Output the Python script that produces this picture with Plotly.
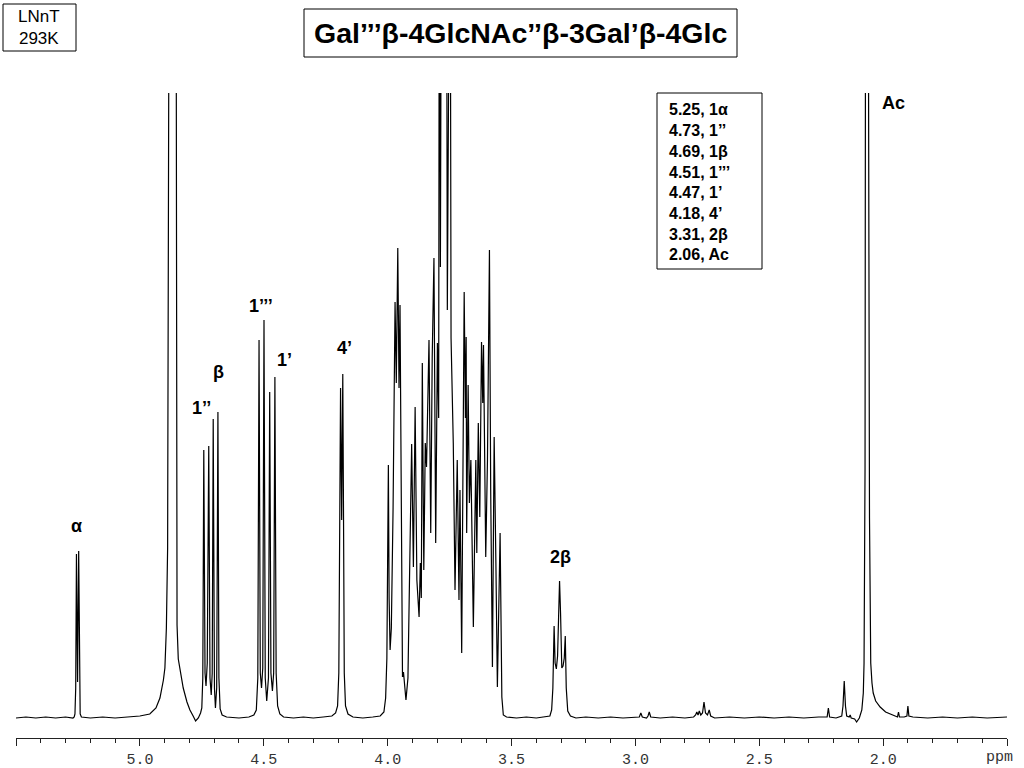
import plotly.graph_objects as go

# 1H spectrum of LNnT, 293K (ppm, height above baseline)
base_left = [(5.50, 0), (5.46, 1), (5.42, 0), (5.38, 1), (5.34, 0), (5.30, 1), (5.27, 0)]
alpha_pk = [(5.265, 1), (5.262, 4), (5.259, 30), (5.256, 164), (5.2515, 36),
            (5.247, 167), (5.244, 30), (5.241, 4), (5.236, 1)]
hdo_pk = [(5.20, 0), (5.15, 1), (5.10, 0), (5.05, 1), (5.00, 2), (4.96, 4), (4.935, 10),
          (4.919, 20), (4.905, 38), (4.899, 50), (4.893, 90), (4.888, 170), (4.884, 500),
          (4.880, 1000), (4.870, 1400), (4.860, 1400), (4.855, 1000), (4.852, 300),
          (4.850, 93), (4.845, 59), (4.835, 42), (4.825, 30), (4.810, 16), (4.798, 8),
          (4.785, 2), (4.775, -3), (4.764, 0), (4.755, 5)]
h1pp_beta = [(4.750, 10), (4.746, 40), (4.742, 268), (4.737, 45), (4.733, 32), (4.728, 55),
             (4.722, 272), (4.717, 40), (4.712, 23), (4.708, 45), (4.704, 299), (4.699, 30),
             (4.695, 10), (4.690, 30), (4.685, 306), (4.681, 40), (4.676, 9), (4.668, 3),
             (4.65, 1), (4.60, 0), (4.56, 1)]
h1ppp_1p = [(4.540, 3), (4.530, 8), (4.524, 40), (4.519, 378), (4.514, 45), (4.509, 30),
            (4.504, 50), (4.499, 398), (4.494, 40), (4.488, 17), (4.481, 40), (4.476, 326),
            (4.471, 45), (4.465, 27), (4.460, 45), (4.455, 341), (4.450, 45), (4.444, 12),
            (4.435, 4), (4.42, 1), (4.38, 0), (4.34, 1), (4.30, 0), (4.26, 1)]
h4p = [(4.225, 2), (4.210, 5), (4.202, 12), (4.197, 45), (4.193, 200), (4.190, 330),
       (4.1855, 198), (4.181, 344), (4.178, 200), (4.175, 45), (4.170, 12), (4.160, 4),
       (4.14, 1), (4.10, 0), (4.06, 1), (4.03, 2)]
ring_pk = [(4.015, 6), (4.008, 20), (4.003, 60), (4.000, 160), (3.997, 253), (3.994, 120),
           (3.990, 68), (3.985, 90), (3.978, 210), (3.970, 416), (3.965, 335), (3.959, 470),
           (3.954, 330), (3.950, 413), (3.945, 150), (3.940, 41), (3.936, 46), (3.932, 35),
           (3.926, 18), (3.918, 40), (3.912, 120), (3.903, 274), (3.896, 151), (3.889, 311),
           (3.882, 138), (3.878, 115), (3.873, 101), (3.868, 155), (3.864, 120), (3.860, 355),
           (3.854, 148), (3.848, 275), (3.843, 251), (3.833, 378), (3.826, 185), (3.820, 361),
           (3.813, 460), (3.806, 175), (3.799, 375), (3.794, 300), (3.791, 900), (3.787, 451),
           (3.782, 900), (3.776, 700), (3.769, 900), (3.763, 900), (3.759, 408), (3.752, 900),
           (3.748, 900), (3.744, 380), (3.735, 275), (3.728, 128), (3.719, 258), (3.712, 118),
           (3.708, 228), (3.701, 65), (3.691, 426), (3.686, 300), (3.683, 381), (3.681, 185),
           (3.675, 333), (3.670, 215), (3.664, 258), (3.654, 91), (3.644, 258), (3.640, 165),
           (3.634, 295), (3.628, 201), (3.621, 376), (3.616, 315), (3.613, 373), (3.604, 161),
           (3.597, 258), (3.589, 468), (3.584, 228), (3.577, 51), (3.570, 281), (3.563, 155),
           (3.557, 31), (3.546, 185), (3.539, 21), (3.533, 3), (3.52, 1), (3.48, 0),
           (3.44, 1), (3.40, 0), (3.37, 1)]
h2b_pk = [(3.345, 2), (3.338, 8), (3.333, 30), (3.328, 92), (3.324, 55), (3.319, 49),
          (3.314, 62), (3.310, 100), (3.306, 137), (3.302, 105), (3.297, 50), (3.292, 52),
          (3.287, 60), (3.283, 82), (3.279, 30), (3.273, 7), (3.262, 2), (3.24, 0)]
base_right = [(3.20, 1), (3.15, 0), (3.10, 1), (3.05, 0), (3.00, 1), (2.984, 1), (2.978, 5),
              (2.972, 1), (2.955, 0), (2.949, 2), (2.944, 6), (2.938, 1), (2.90, 0), (2.85, 1),
              (2.80, 0), (2.765, 1), (2.757, 3), (2.752, 6), (2.747, 3), (2.742, 7), (2.736, 3),
              (2.729, 5), (2.723, 16), (2.717, 5), (2.709, 3), (2.702, 8), (2.696, 2),
              (2.68, 0), (2.62, 1), (2.56, 0), (2.50, 1), (2.44, 0), (2.38, 1), (2.32, 0),
              (2.26, 1), (2.226, 1), (2.221, 10), (2.216, 1), (2.19, 0), (2.167, 2),
              (2.162, 12), (2.157, 37), (2.152, 12), (2.147, 2), (2.137, 1), (2.133, 3),
              (2.129, 0), (2.115, -1), (2.107, -4), (2.096, 0), (2.086, 8), (2.080, 25),
              (2.077, 55), (2.073, 250), (2.070, 1000), (2.062, 1000), (2.055, 200),
              (2.050, 55), (2.045, 35), (2.040, 25), (2.030, 17), (2.012, 11), (1.990, 6),
              (1.970, 4), (1.950, 2), (1.942, 1), (1.938, 6), (1.934, 1), (1.915, 1),
              (1.904, 2), (1.900, 12), (1.896, 2), (1.88, 1), (1.82, 0), (1.76, 1),
              (1.70, 0), (1.64, 1), (1.58, 0), (1.50, 1)]

segments = [base_left, alpha_pk, hdo_pk, h1pp_beta, h1ppp_1p, h4p, ring_pk, h2b_pk, base_right]
shift = [p for seg in segments for p, h in seg]
height = [h for seg in segments for p, h in seg]

peak_labels = ["α", "1’’", "β", "1’’’", "1’", "4’", "2β", "Ac"]
label_ppm = [5.254, 4.753, 4.681, 4.512, 4.418, 4.176, 3.304, 1.960]
label_h = [192, 310, 346, 412, 358, 370, 161, 615]

assign_shift = ["5.25", "4.73", "4.69", "4.51", "4.47", "4.18", "3.31", "2.06"]
assign_name = ["1α", "1’’", "1β", "1’’’", "1’", "4’", "2β", "Ac"]

tick_vals = [5.5, 5.0, 4.5, 4.0, 3.5, 3.0, 2.5, 2.0, 1.5]
tick_text = ["", "5.0", "4.5", "4.0", "3.5", "3.0", "2.5", "2.0", ""]

W, H = 1024, 768


def px(x):
    return x / W


def py(y):
    return 1 - y / H


fig = go.Figure()
fig.add_trace(go.Scatter(x=shift, y=height, mode="lines",
                         line=dict(color="black", width=1.2), hoverinfo="skip"))

lab_font = dict(family="Liberation Sans, Arial", size=18, color="black")
for t, xv, yv in zip(peak_labels, label_ppm, label_h):
    fig.add_annotation(x=xv, y=yv, xref="x", yref="y", text="<b>%s</b>" % t,
                       xanchor="center", yanchor="middle", showarrow=False, font=lab_font)

# boxes
fig.add_shape(type="rect", xref="paper", yref="paper", x0=px(3), x1=px(76), y0=py(51), y1=py(4),
              line=dict(color="black", width=1))
fig.add_shape(type="rect", xref="paper", yref="paper", x0=px(304), x1=px(737), y0=py(57), y1=py(9),
              line=dict(color="black", width=1))
fig.add_shape(type="rect", xref="paper", yref="paper", x0=px(657), x1=px(762), y0=py(269), y1=py(93),
              line=dict(color="black", width=1), fillcolor="white")

fig.add_annotation(x=px(39), y=py(27), xref="paper", yref="paper", text="LNnT<br>293K",
                   xanchor="center", yanchor="middle", showarrow=False, align="center",
                   font=dict(family="Liberation Sans, Arial", size=17, color="black"))
fig.add_annotation(x=px(520), y=py(33), xref="paper", yref="paper",
                   text="<b>Gal’’’β-4GlcNAc’’β-3Gal’β-4Glc</b>", showarrow=False,
                   xanchor="center", yanchor="middle",
                   font=dict(family="Liberation Sans, Arial", size=28.5, color="black"))

for i, (s, n) in enumerate(zip(assign_shift, assign_name)):
    fig.add_annotation(x=px(667), y=py(110 + i * 20.7), xref="paper", yref="paper",
                       xanchor="left", yanchor="middle", text="<b>%s, %s</b>" % (s, n),
                       showarrow=False,
                       font=dict(family="Liberation Sans, Arial", size=16, color="black"))

fig.add_annotation(x=px(984), y=py(757), xref="paper", yref="paper", xanchor="left",
                   yanchor="middle", text="ppm", showarrow=False,
                   font=dict(family="Liberation Mono, Courier New", size=15, color="#333"))

fig.update_layout(
    width=W, height=H, margin=dict(l=0, r=0, t=0, b=0),
    paper_bgcolor="white", plot_bgcolor="white", showlegend=False,
    xaxis=dict(range=[5.5, 1.5], domain=[px(16), px(1007)], showgrid=False, zeroline=False,
               showline=True, linecolor="#222", linewidth=1, ticks="outside", ticklen=7,
               tickcolor="#222", tickmode="array", tickvals=tick_vals, ticktext=tick_text,
               tickfont=dict(family="Liberation Mono, Courier New", size=15, color="#333"),
               minor=dict(tickmode="linear", tick0=0, dtick=0.1, ticks="outside", ticklen=4,
                          tickcolor="#222", showgrid=False)),
    yaxis=dict(range=[-20, 625], domain=[py(738), py(93)], visible=False),
)

# page body has a default 8px margin; drop it so the figure sits at the window corner
fig.write_html("out.html", config={"displayModeBar": False},
               post_script="document.body.style.margin='0';")
